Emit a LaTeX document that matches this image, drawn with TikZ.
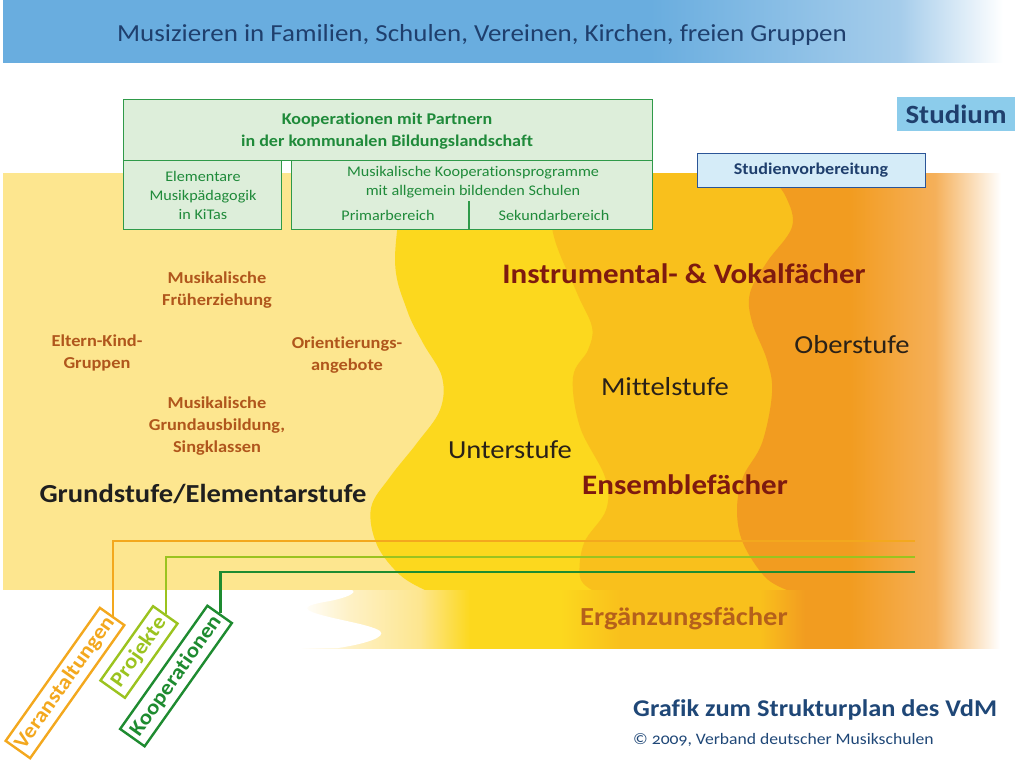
\documentclass[tikz,border=0pt]{standalone}
\usepackage{fontspec}
\setmainfont{Carlito}[Ligatures=NoCommon, FakeStretch=1.1]
\newfontfamily\oldnum{Carlito}[Numbers=OldStyle, Ligatures=NoCommon, FakeStretch=1.1]
\newcommand\fsz[2]{\fontsize{#1}{#2}\selectfont}
\definecolor{banA}{HTML}{69ADDF}
\definecolor{banB}{HTML}{A6CDEB}
\definecolor{navy}{HTML}{1F3F6D}
\definecolor{vdmnavy}{HTML}{1F4777}
\definecolor{studblue}{HTML}{8CCCEB}
\definecolor{svfill}{HTML}{D5ECF8}
\definecolor{svline}{HTML}{2B5597}
\definecolor{gfill}{HTML}{DDEEDA}
\definecolor{gline}{HTML}{2F9A49}
\definecolor{gtext}{HTML}{1F8A3A}
\definecolor{ltyel}{HTML}{FDE68F}
\definecolor{paleyel}{HTML}{FEF1C6}
\definecolor{yel}{HTML}{FCD81E}
\definecolor{dkyel}{HTML}{F9C01C}
\definecolor{orng}{HTML}{F29C20}
\definecolor{orngl}{HTML}{F5B05A}
\definecolor{brown}{HTML}{B0561C}
\definecolor{darkred}{HTML}{7E1A0F}
\definecolor{ergtext}{HTML}{B5601B}
\definecolor{stufe}{HTML}{2A2118}
\definecolor{lineorange}{HTML}{F3A81E}
\definecolor{linelight}{HTML}{9BC31F}
\definecolor{linedark}{HTML}{1E8B30}
\pgfdeclarehorizontalshading{bandshade}{100bp}{color(0bp)=(white); color(25bp)=(white); color(28.5bp)=(paleyel); color(33.571bp)=(ltyel); color(37.143bp)=(yel); color(43.571bp)=(yel); color(47.857bp)=(dkyel); color(57.857bp)=(dkyel); color(61.071bp)=(orng); color(64.286bp)=(orng); color(70.357bp)=(orngl); color(75bp)=(white); color(100bp)=(white)}
\begin{document}
\begin{tikzpicture}[x=1pt,y=-1pt,
  gbox/.style={draw=gline, line width=1.2pt, fill=gfill, anchor=north west, inner sep=0pt},
  gtxt/.style={text=gtext, align=center, inner sep=0pt},
  brtxt/.style={text=brown, font=\bfseries\fsz{16.7}{22}, align=center, inner sep=0pt},
  stufetxt/.style={text=stufe, font=\fsz{26}{30}, inner sep=0pt},
  redtxt/.style={text=darkred, font=\bfseries\fsz{28.2}{30}, inner sep=0pt},
  labelbox/.style={draw, line width=2.4pt, fill=white, rotate=54.7, font=\bfseries\fsz{21}{24}, inner sep=0pt, minimum height=30},
  conn/.style={line width=2.4pt}
]
\useasboundingbox (0,0) rectangle (1024,765);
% banner
\fill[banA] (3,0) rectangle (651,63);
\shade[left color=banA, right color=banB] (650,0) rectangle (901,63);
\shade[left color=banB, right color=white] (900,0) rectangle (1003,63);
\node[text=navy, font=\fsz{24.5}{28}, inner sep=0pt] (title) at (482,35) {Musizieren in Familien, Schulen, Vereinen, Kirchen, freien Gruppen};
% background
\fill[ltyel] (3,173) rectangle (990,590);
\fill[yel] plot[smooth, tension=0.6] coordinates {(405,173) (395,260) (407,310) (423,343) (442,377) (440,410) (417,443) (390,477) (371,508) (377,545) (400,575) (425,590)} -- (990,590) -- (990,173) -- cycle;
\fill[dkyel] plot[smooth, tension=0.6] coordinates {(550,173) (553,233) (577,293) (592,327) (588,350) (573,377) (580,427) (605,477) (606,510) (584,543) (580,577) (592,590)} -- (990,590) -- (990,173) -- cycle;
\fill[orng] plot[smooth, tension=0.6] coordinates {(768,173) (786,197) (792,227) (767,262) (750,293) (752,322) (767,360) (772,393) (762,443) (743,477) (737,510) (743,543) (765,577) (787,590)} -- (990,590) -- (990,173) -- cycle;
% right fade of upper area
\shade[left color=orng, right color=orngl] (850,173) rectangle (935.5,590.3);
\shade[left color=orngl, right color=white] (935,173) rectangle (1001,590.3);
% lower band
\shade[shading=bandshade] (300,590) rectangle (1000,648);
\fill[white] (295,590) -- (352,590) .. controls (358,593) and (345,598) .. (330,601) .. controls (312,604) and (300,607) .. (312,612) .. controls (330,619) and (370,624) .. (380,631) .. controls (387,637) and (365,644) .. (338,648) -- (295,648) -- cycle;
% Studium
\node[fill=studblue, minimum width=118, minimum height=33, inner sep=0pt, text=navy, font=\bfseries\fsz{26.3}{30}] (studium) at (956,114) {Studium};
% Studienvorbereitung
\node[fill=svfill, draw=svline, line width=1pt, minimum width=228, minimum height=34, inner sep=0pt, text=navy, font=\bfseries\fsz{16.4}{20}] (studvor) at (811,170) {Studienvorbereitung};
% green boxes
\node[gbox, minimum width=529, minimum height=61] (koop) at (123,99) {};
\node[gbox, minimum width=158, minimum height=69] (kita) at (123,160) {};
\node[gbox, minimum width=361, minimum height=69] (schul) at (291,160) {};
\coordinate (divtop) at (469,201);
\coordinate (divbot) at (469,229);
\draw[gline, line width=1.2pt] (divtop) -- (divbot);
\node[gtxt, font=\bfseries\fsz{16.4}{22}] (kooptxt) at (387,131.5) {Kooperationen mit Partnern\\in der kommunalen Bildungslandschaft};
\node[gtxt, font=\fsz{14.7}{19}] (kitatxt) at (203,195) {Elementare\\Musikpädagogik\\in KiTas};
\node[gtxt, font=\fsz{14.7}{19}] (schultxt) at (473,182) {Musikalische Kooperationsprogramme\\mit allgemein bildenden Schulen};
\node[gtxt, font=\fsz{14.7}{19}] (primar) at (388,215) {Primarbereich};
\node[gtxt, font=\fsz{14.7}{19}] (sekundar) at (554,215) {Sekundarbereich};
% left texts
\node[brtxt] (mfe) at (217,290) {Musikalische\\Früherziehung};
\node[brtxt] (ekg) at (97,353) {Eltern-Kind-\\Gruppen};
\node[brtxt] (orient) at (347,355) {Orientierungs-\\angebote};
\node[brtxt] (mga) at (217,426) {Musikalische\\Grundausbildung,\\Singklassen};
\node[text=black!88, font=\bfseries\fsz{26}{30}, inner sep=0pt] (grund) at (203,494) {Grundstufe/Elementarstufe};
% right texts
\node[redtxt] (instr) at (684,274) {Instrumental- \& Vokalfächer};
\node[stufetxt] (ober) at (852,345) {Oberstufe};
\node[stufetxt] (mittel) at (665,387) {Mittelstufe};
\node[stufetxt] (unter) at (510,450) {Unterstufe};
\node[redtxt] (ens) at (685,485) {Ensemblefächer};
\node[text=ergtext, font=\bfseries\fsz{26}{30}, inner sep=0pt] (erg) at (684,619) {Ergänzungsfächer};
% footer
\node[text=vdmnavy, font=\bfseries\fsz{24}{26}, inner sep=0pt, anchor=west] (grafik) at (633,710) {Grafik zum Strukturplan des VdM};
\node[text=vdmnavy, font=\oldnum\fsz{16}{20}, inner sep=0pt, anchor=west] (copy) at (633,740) {© 2009, Verband deutscher Musikschulen};
% connectors and label boxes
\coordinate (vend) at (915,541);
\coordinate (pend) at (915,557);
\coordinate (kend) at (915,572);
\node[labelbox, draw=lineorange, text=lineorange, minimum width=163] (veran) at (65,683) {Veranstaltungen};
\node[labelbox, draw=linelight, text=linelight, minimum width=91] (proj) at (139,652) {Projekte};
\node[labelbox, draw=linedark, text=linedark, minimum width=151] (kooplab) at (176,676) {Kooperationen};
\draw[conn, lineorange] (veran.east) |- (vend);
\draw[conn, linelight] (proj.east) |- (pend);
\draw[conn, linedark] (kooplab.east) |- (kend);
\end{tikzpicture}
\end{document}
